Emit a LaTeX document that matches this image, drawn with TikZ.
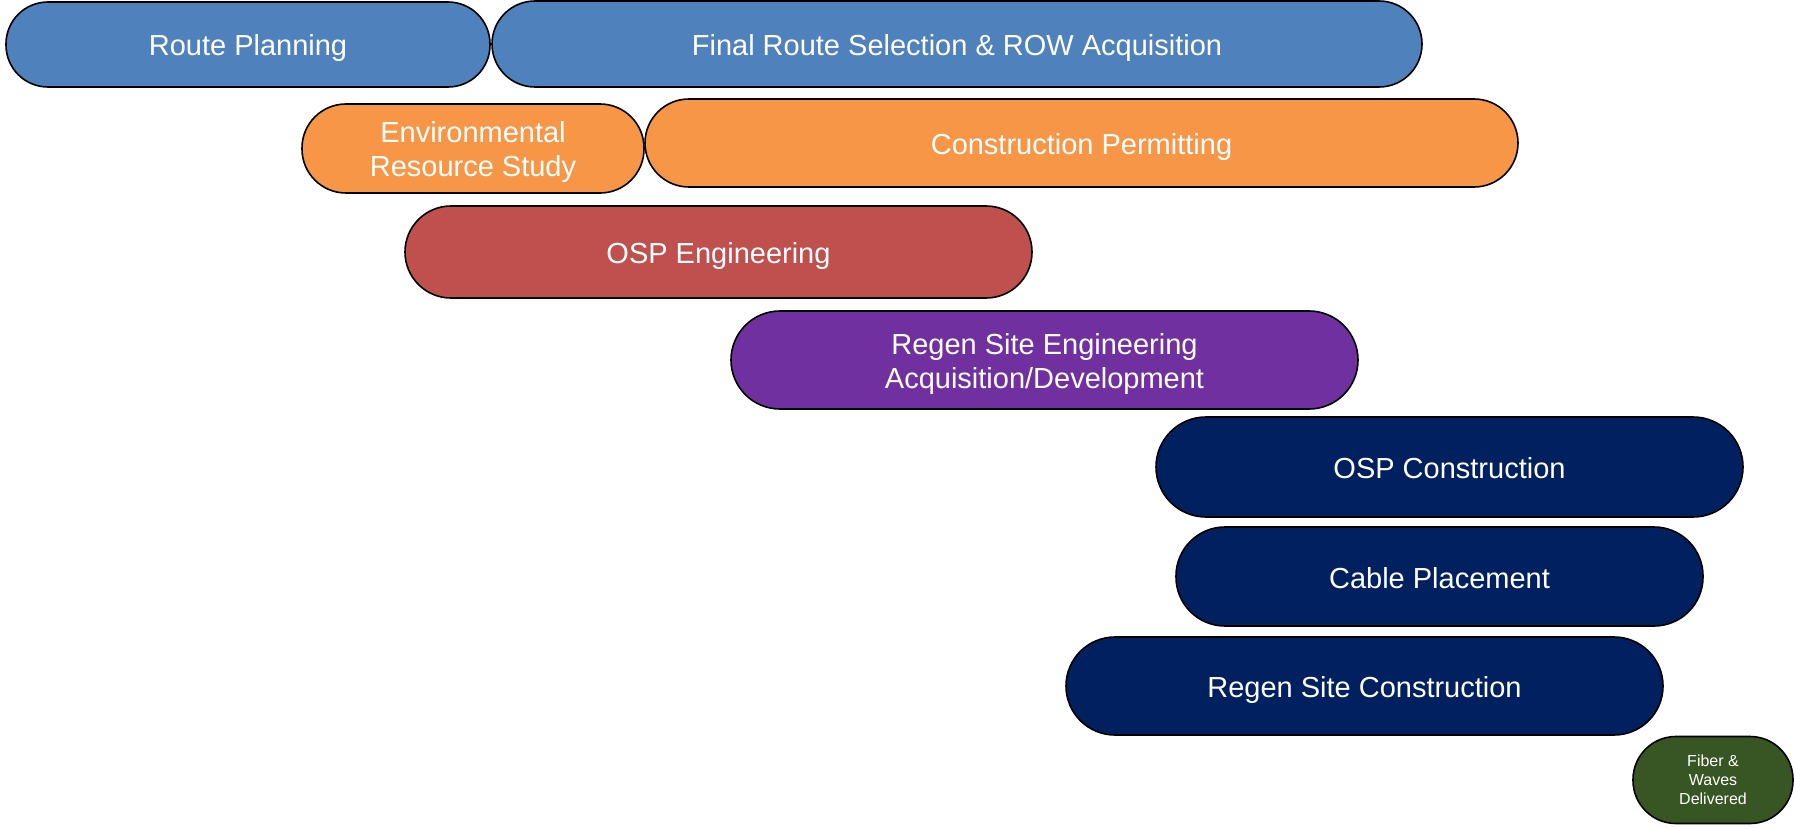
\documentclass[tikz,border=0pt]{standalone}
\usepackage{fontspec}
\setmainfont{Liberation Sans}
\definecolor{cblue}{HTML}{4F81BD}
\definecolor{corange}{HTML}{F79646}
\definecolor{cred}{HTML}{C0504D}
\definecolor{cpurple}{HTML}{7030A0}
\definecolor{cnavy}{HTML}{002060}
\definecolor{cgreen}{HTML}{375623}
\begin{document}
\begin{tikzpicture}[x=1pt,y=-1pt,
  pillbase/.style={draw=black, line width=1.6pt, text=white, align=center, inner sep=0pt},
  pill/.style={pillbase, font=\fontsize{29}{34}\selectfont, text height=23pt, text depth=0pt},
  twopill/.style={pillbase, font=\fontsize{29}{34}\selectfont, text height=57pt, text depth=0pt},
  smallpill/.style={pillbase, font=\fontsize{16}{19}\selectfont}]
\useasboundingbox (0,0) rectangle (1796,829);
\node[pill, fill=cblue, minimum width=484pt, minimum height=85pt, rounded corners=42pt] (rp) at (248,44.5) {Route Planning};
\node[pill, fill=cblue, minimum width=930pt, minimum height=86pt, rounded corners=43pt] (fr) at (957,44) {Final Route Selection \& ROW Acquisition};
\node[twopill, fill=corange, minimum width=342pt, minimum height=89pt, rounded corners=44pt] (env) at (473,148.5) {Environmental\\Resource Study};
\node[pill, fill=corange, minimum width=873pt, minimum height=88pt, rounded corners=44pt] (cp) at (1081.5,143) {Construction Permitting};
\node[pill, fill=cred, minimum width=627pt, minimum height=92pt, rounded corners=46pt] (osp) at (718.5,252) {OSP Engineering};
\node[twopill, fill=cpurple, minimum width=627pt, minimum height=98pt, rounded corners=49pt] (rse) at (1044.5,360) {Regen Site Engineering\\Acquisition/Development};
\node[pill, fill=cnavy, minimum width=587pt, minimum height=100pt, rounded corners=50pt] (ospc) at (1449.5,467) {OSP Construction};
\node[pill, fill=cnavy, minimum width=527pt, minimum height=99pt, rounded corners=49pt] (cab) at (1439.5,576.5) {Cable Placement};
\node[pill, fill=cnavy, minimum width=597pt, minimum height=98pt, rounded corners=49pt] (rsc) at (1364.5,686) {Regen Site Construction};
\node[smallpill, fill=cgreen, minimum width=160pt, minimum height=87pt, rounded corners=43pt] (fib) at (1713,780) {Fiber \&\\Waves\\Delivered};
\end{tikzpicture}
\end{document}
